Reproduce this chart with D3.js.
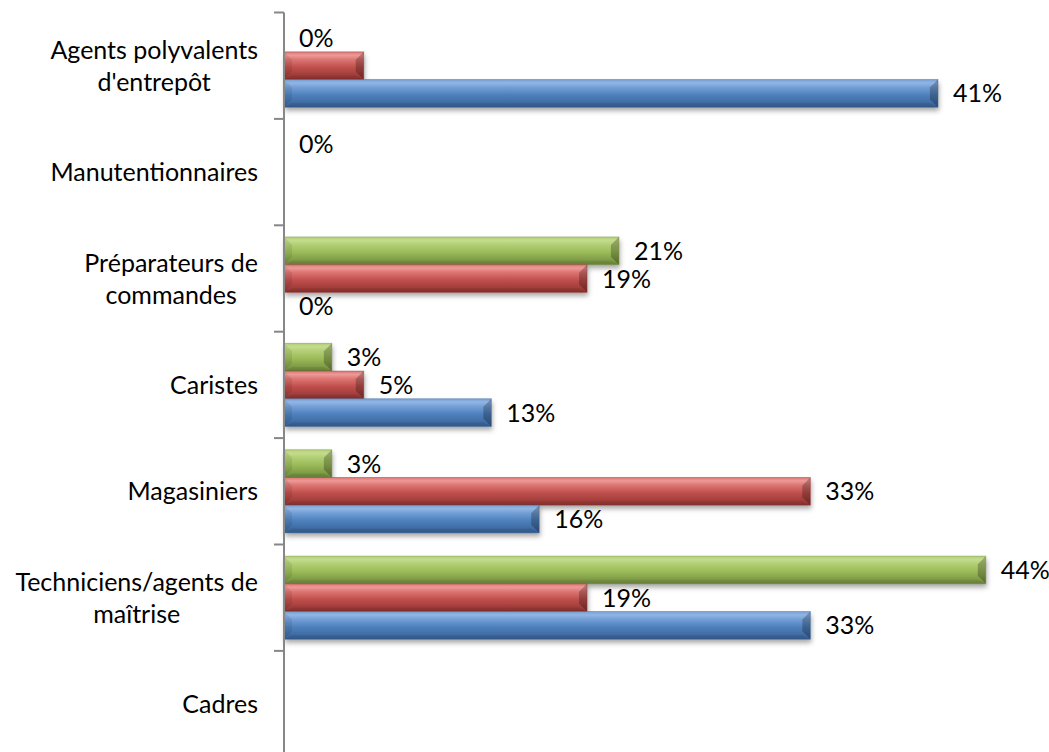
<!DOCTYPE html>
<html>
<head>
<meta charset="utf-8">
<script src="https://cdn.jsdelivr.net/npm/d3@7"></script>
<style>
  html, body { margin: 0; padding: 0; background: #fff; }
  svg { display: block; }
  text { font-family: Lato, "Open Sans", sans-serif; fill: #000; }
</style>
</head>
<body>
<svg id="chart" width="1049" height="752"></svg>
<script>
// Job categories (line breaks mark how each label wraps)
const categories = [
  "Agents polyvalents\nd'entrepôt",
  "Manutentionnaires",
  "Préparateurs de\ncommandes",
  "Caristes",
  "Magasiniers",
  "Techniciens/agents de\nmaîtrise",
  "Cadres"
];

// Percentages per series, top slot to bottom slot inside each category (null = no bar)
const seriesNames = ["green", "red", "blue"];
const greenValues = [0, 0, 21, 3, 3, 44, null];
const redValues   = [5, null, 19, 5, 33, 19, null];
const blueValues  = [41, null, 0, 13, 16, 33, null];

// Data points whose value label is not displayed
const unlabeledPoints = [{ series: "red", index: 0 }];

const seriesValues = { green: greenValues, red: redValues, blue: blueValues };

const palette = {
  green: { light: "#c4dc8e", hi: "#b2cf74", base: "#9bbb59", dark: "#6f8a3c" },
  red:   { light: "#ee9a98", hi: "#dc7572", base: "#c0504d", dark: "#8f3330" },
  blue:  { light: "#93b6e3", hi: "#739fd6", base: "#4f81bd", dark: "#365f93" }
};

const svg = d3.select("#chart");
const axisX = 284;
const plotTop = 12.5;
const bandH = 106.4;
const fontSize = 25;

const y = d3.scaleBand()
  .domain(categories)
  .range([plotTop, plotTop + bandH * categories.length])
  .paddingInner(0).paddingOuter(0);

const ySub = d3.scaleBand()
  .domain(seriesNames)
  .range([0, y.bandwidth()])
  .paddingInner(0)
  .paddingOuter(0.42);

const x = d3.scaleLinear().domain([0, 50]).range([axisX, axisX + 50 * 15.95]);

// Definitions: gradients and drop shadow
const defs = svg.append("defs");
seriesNames.forEach(s => {
  const c = palette[s];
  const g = defs.append("linearGradient")
    .attr("id", "grad-" + s)
    .attr("x1", 0).attr("y1", 0).attr("x2", 0).attr("y2", 1);
  g.append("stop").attr("offset", "0%").attr("stop-color", c.hi);
  g.append("stop").attr("offset", "12%").attr("stop-color", c.light);
  g.append("stop").attr("offset", "28%").attr("stop-color", c.hi);
  g.append("stop").attr("offset", "55%").attr("stop-color", c.base);
  g.append("stop").attr("offset", "100%").attr("stop-color", c.dark);
});
const shadow = defs.append("filter")
  .attr("id", "shadow")
  .attr("x", "-5%").attr("y", "-30%").attr("width", "115%").attr("height", "180%");
shadow.append("feDropShadow")
  .attr("dx", 1).attr("dy", 3.5).attr("stdDeviation", 2.5)
  .attr("flood-color", "#000").attr("flood-opacity", 0.35);

// Flatten into points
const points = [];
seriesNames.forEach(s => {
  seriesValues[s].forEach((v, i) => {
    if (v === null) return;
    const hidden = unlabeledPoints.some(p => p.series === s && p.index === i);
    points.push({ series: s, index: i, value: v, category: categories[i], labeled: !hidden });
  });
});

// Bars with bevelled ends
const bevel = 8;
const barG = svg.append("g");
points.filter(d => d.value > 0).forEach(d => {
  const x0 = x(0), x1 = x(d.value);
  const y0 = y(d.category) + ySub(d.series);
  const y1 = y0 + ySub.bandwidth();
  const g = barG.append("g");
  g.append("rect")
    .attr("x", x0).attr("y", y0)
    .attr("width", x1 - x0).attr("height", y1 - y0)
    .attr("fill", `url(#grad-${d.series})`)
    .attr("filter", "url(#shadow)");
  const b = Math.min(bevel, (x1 - x0) / 2);
  // right end facet
  g.append("polygon")
    .attr("points", [[x1, y0], [x1 - b, y0 + bevel], [x1 - b, y1 - bevel], [x1, y1]].join(" "))
    .attr("fill", "#000").attr("fill-opacity", 0.24);
  // left end facet
  g.append("polygon")
    .attr("points", [[x0, y0], [x0 + b, y0 + bevel], [x0 + b, y1 - bevel], [x0, y1]].join(" "))
    .attr("fill", "#000").attr("fill-opacity", 0.08);
  // bottom facet
  g.append("polygon")
    .attr("points", [[x0, y1], [x0 + b, y1 - bevel * 0.5], [x1 - b, y1 - bevel * 0.5], [x1, y1]].join(" "))
    .attr("fill", "#000").attr("fill-opacity", 0.08);
  // fine outline
  g.append("rect")
    .attr("x", x0).attr("y", y0)
    .attr("width", x1 - x0).attr("height", y1 - y0)
    .attr("fill", "none")
    .attr("stroke", palette[d.series].dark).attr("stroke-opacity", 0.5).attr("stroke-width", 0.8);
});

// Value labels
svg.append("g").selectAll("text")
  .data(points.filter(d => d.labeled))
  .join("text")
  .attr("x", d => x(d.value) + 15)
  .attr("y", d => y(d.category) + ySub(d.series) + ySub.bandwidth() / 2)
  .attr("dy", "0.36em")
  .attr("font-size", fontSize)
  .text(d => d.value + "%");

// Vertical axis with tick marks at category boundaries
const axisG = svg.append("g");
axisG.append("line")
  .attr("x1", axisX).attr("x2", axisX)
  .attr("y1", plotTop).attr("y2", y.range()[1])
  .attr("stroke", "#878787").attr("stroke-width", 2);
axisG.selectAll("line.tick")
  .data(d3.range(categories.length + 1))
  .join("line")
  .attr("class", "tick")
  .attr("x1", axisX - 10).attr("x2", axisX)
  .attr("y1", i => plotTop + i * y.step())
  .attr("y2", i => plotTop + i * y.step())
  .attr("stroke", "#878787").attr("stroke-width", 2);

// Category labels: block right-aligned, lines centred within the block
const labelRight = 258;
const lineH = 32;
categories.forEach(cat => {
  const lines = cat.split("\n");
  const g = svg.append("g");
  const texts = lines.map((ln, k) => g.append("text")
    .attr("font-size", fontSize)
    .attr("text-anchor", "middle")
    .attr("y", y(cat) + y.bandwidth() / 2 + (k - (lines.length - 1) / 2) * lineH)
    .attr("dy", "0.36em")
    .text(ln));
  const maxW = d3.max(texts, t => t.node().getComputedTextLength());
  texts.forEach(t => t.attr("x", labelRight - maxW / 2));
});
</script>
</body>
</html>
